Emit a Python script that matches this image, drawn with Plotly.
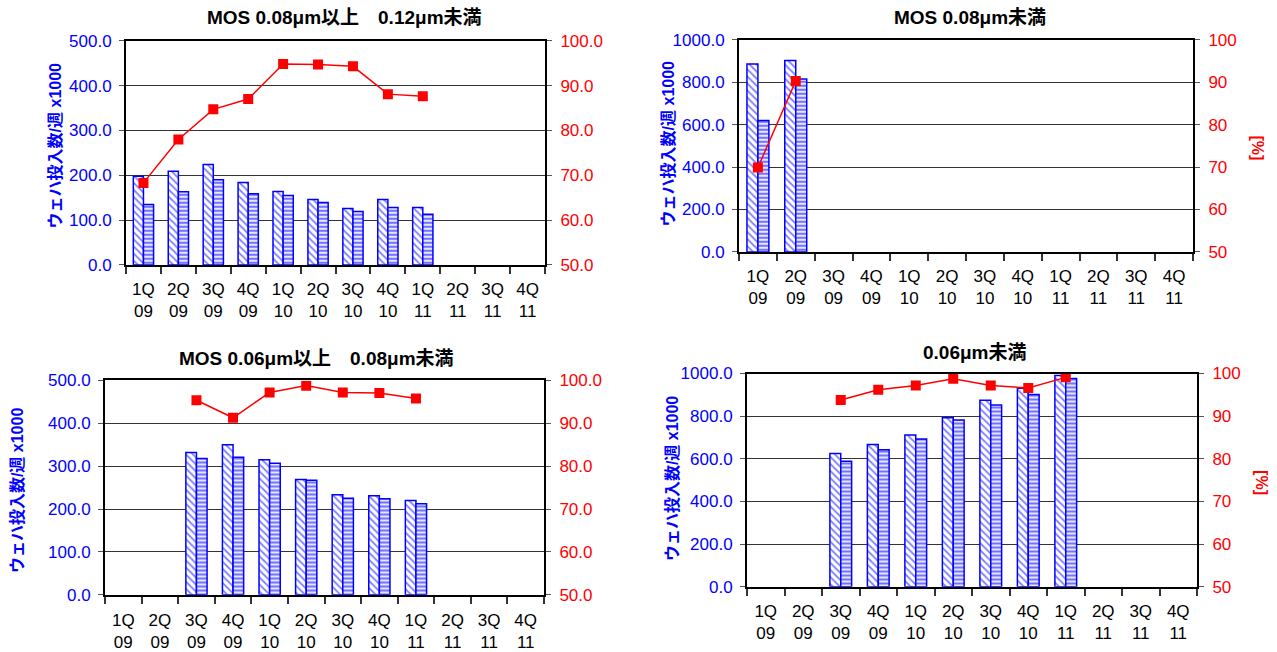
import plotly.graph_objects as go

quarters = ["1Q<br>09", "2Q<br>09", "3Q<br>09", "4Q<br>09", "1Q<br>10", "2Q<br>10",
            "3Q<br>10", "4Q<br>10", "1Q<br>11", "2Q<br>11", "3Q<br>11", "4Q<br>11"]

titles = ["MOS 0.08μm以上　0.12μm未満", "MOS 0.08μm未満",
          "MOS 0.06μm以上　0.08μm未満", "0.06μm未満"]
left_title = "ウェハ投入数/週 x1000"
right_title_text = "[%]"

# panel 1: MOS 0.08um - 0.12um
p1_a = [198, 209, 224, 184, 164, 146, 126, 146, 128, None, None, None]
p1_b = [135, 163, 190, 159, 155, 139, 119, 128, 113, None, None, None]
p1_pct = [68.3, 78.0, 84.7, 87.0, 94.8, 94.7, 94.3, 88.1, 87.6, None, None, None]

# panel 2: MOS < 0.08um
p2_a = [886, 902, None, None, None, None, None, None, None, None, None, None]
p2_b = [620, 815, None, None, None, None, None, None, None, None, None, None]
p2_pct = [69.9, 90.3, None, None, None, None, None, None, None, None, None, None]

# panel 3: MOS 0.06um - 0.08um
p3_a = [None, None, 332, 350, 315, 269, 233, 231, 220, None, None, None]
p3_b = [None, None, 318, 321, 307, 267, 225, 224, 212, None, None, None]
p3_pct = [None, None, 95.4, 91.3, 97.2, 98.8, 97.2, 97.1, 95.8, None, None, None]

# panel 4: < 0.06um
p4_a = [None, None, 625, 667, 712, 793, 875, 931, 991, None, None, None]
p4_b = [None, None, 588, 643, 693, 782, 852, 902, 977, None, None, None]
p4_pct = [None, None, 93.8, 96.2, 97.2, 98.8, 97.2, 96.6, 99.1, None, None, None]

left_max = [500, 1000, 500, 1000]
left_dtick = [100, 200, 100, 200]
right_fmt = [".1f", "d", ".1f", "d"]
show_right_title = [False, True, False, True]

W, H = 1277, 652


def vy(y):
    # compensate vertical placement of the captured page
    return (y - 8.1) / 0.973


# plot rectangles in pixels: x0, x1, y0(top), y1(bottom)
rects = [(126, 545, 40, 265), (739, 1193, 39, 252),
         (105, 544, 381, 596), (747, 1197, 374, 588)]
title_pos = [(344, 17), (970, 17), (316, 359), (975, 353)]
ytitle_pos = [(55, 146), (668, 144), (17, 492), (672, 480)]
rtitle_pos = [None, (1258, 147), None, (1262, 483)]
xlabel_standoff = [8, 8, 9, 8]

BLUE = "#0000FF"
RED = "#FF0000"
FONT = "Liberation Sans, Arial, Noto Sans CJK JP, sans-serif"

fig = go.Figure()
data = [(p1_a, p1_b, p1_pct), (p2_a, p2_b, p2_pct), (p3_a, p3_b, p3_pct), (p4_a, p4_b, p4_pct)]

annotations = []
for i, (a, b, pct) in enumerate(data):
    xn = "x" if i == 0 else f"x{i+1}"
    yl = "y" if i == 0 else f"y{2*i+1}"
    yr = f"y{2*i+2}"
    fig.add_trace(go.Bar(x=quarters, y=a, xaxis=xn, yaxis=yl, showlegend=False,
                         marker=dict(color="white", line=dict(color=BLUE, width=1.5),
                                     pattern=dict(shape="\\", fgcolor=BLUE, bgcolor="white",
                                                  size=5, solidity=0.35))))
    fig.add_trace(go.Bar(x=quarters, y=b, xaxis=xn, yaxis=yl, showlegend=False,
                         marker=dict(color="white", line=dict(color=BLUE, width=1.5),
                                     pattern=dict(shape="-", fgcolor=BLUE, bgcolor="#E6E6FF",
                                                  size=4, solidity=0.5))))
    fig.add_trace(go.Scatter(x=quarters, y=pct, xaxis=xn, yaxis=yr, showlegend=False,
                             mode="lines+markers", line=dict(color=RED, width=1.5),
                             marker=dict(symbol="square", size=10, color=RED)))

    x0, x1, y0, y1 = rects[i]
    xd = [x0 / W, x1 / W]
    yd = [1 - vy(y1) / H, 1 - vy(y0) / H]
    xk = "xaxis" if i == 0 else f"xaxis{i+1}"
    ylk = "yaxis" if i == 0 else f"yaxis{2*i+1}"
    yrk = f"yaxis{2*i+2}"
    fig.layout[xk] = dict(domain=xd, anchor=yl, type="category", categoryorder="array",
                          categoryarray=quarters, range=[-0.5, 11.5],
                          showline=True, linecolor="black", linewidth=2, mirror=True,
                          ticks="outside", tickson="boundaries", ticklen=7, tickcolor="#333333",
                          tickwidth=1.5, showgrid=False, ticklabelstandoff=xlabel_standoff[i],
                          tickfont=dict(family=FONT, size=17, color="black"))
    fig.layout[ylk] = dict(domain=yd, anchor=xn, range=[0, left_max[i]], dtick=left_dtick[i],
                           tickformat=".1f", showline=True, linecolor="black", linewidth=2,
                           ticks="outside", ticklen=5, tickcolor="#555555",
                           showgrid=True, gridcolor="#333333", gridwidth=1, zeroline=False,
                           ticklabelstandoff=4,
                           tickfont=dict(family=FONT, size=17, color=BLUE))
    fig.layout[yrk] = dict(domain=yd, anchor=xn, overlaying=yl, side="right",
                           range=[50, 100], dtick=10, tickformat=right_fmt[i],
                           showline=True, linecolor="black", linewidth=2,
                           ticks="outside", ticklen=5, tickcolor="#555555",
                           showgrid=False, zeroline=False, ticklabelstandoff=5,
                           tickfont=dict(family=FONT, size=17, color=RED))
    tx, ty = title_pos[i]
    annotations.append(dict(text=f"<b>{titles[i]}</b>", xref="paper", yref="paper",
                            x=tx / W, y=1 - vy(ty) / H,
                            xanchor="center", yanchor="middle", showarrow=False,
                            font=dict(family=FONT, size=19, color="black")))
    lx, ly = ytitle_pos[i]
    annotations.append(dict(text=f"<b>{left_title}</b>", xref="paper", yref="paper",
                            x=lx / W, y=1 - vy(ly) / H, textangle=-90,
                            xanchor="center", yanchor="middle", showarrow=False,
                            font=dict(family=FONT, size=16, color=BLUE)))
    if show_right_title[i]:
        rx, ry = rtitle_pos[i]
        annotations.append(dict(text=f"<b>{right_title_text}</b>", xref="paper", yref="paper",
                                x=rx / W, y=1 - vy(ry) / H, textangle=90,
                                xanchor="center", yanchor="middle", showarrow=False,
                                font=dict(family=FONT, size=16, color=RED)))

fig.update_layout(width=W, height=H, margin=dict(l=0, r=0, t=0, b=0),
                  paper_bgcolor="white", plot_bgcolor="white",
                  barmode="group", bargap=0.42, bargroupgap=0,
                  annotations=annotations, font=dict(family=FONT))

fig.write_html("out.html", config={"displayModeBar": False},
               post_script="document.body.style.margin='0';document.body.style.overflow='hidden';")
